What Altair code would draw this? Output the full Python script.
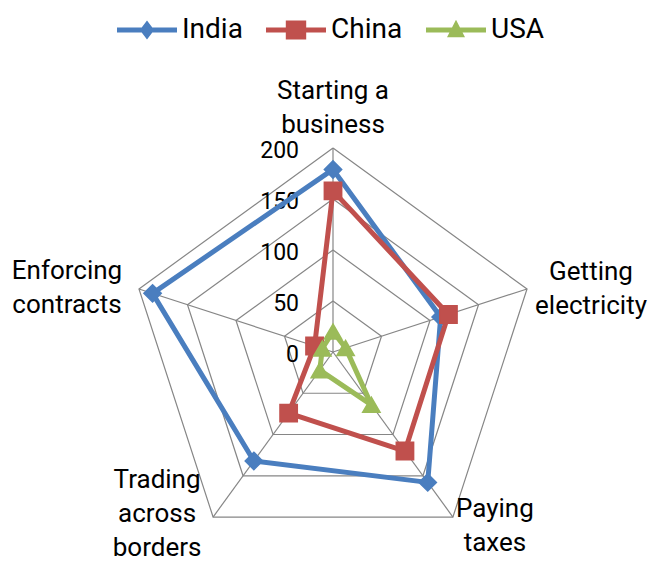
import altair as alt
import pandas as pd

# ---- data ----
categories = ["Starting a\nbusiness", "Getting\nelectricity", "Paying\ntaxes",
              "Trading\nacross\nborders", "Enforcing\ncontracts"]
countries = ["India", "China", "USA"]
india = [179, 111, 158, 132, 186]
china = [158, 119, 120, 74, 19]
usa = [20, 13, 64, 22, 11]
grid_levels = [50, 100, 150, 200]
tick_values = [0, 50, 100, 150, 200]

# ---- styles ----
colors = ["#4a7ebf", "#c0504d", "#9bbb59"]
marker_shapes = ["diamond", "square", "triangle-up"]
legend_paths = [
    "M-1,-0.085H1V0.085H-1Z M0,-0.32L0.24,0L0,0.32L-0.24,0Z",
    "M-1,-0.085H1V0.085H-1Z M-0.34,-0.32H0.34V0.32H-0.34Z",
    "M-1,-0.085H1V0.085H-1Z M0,-0.34L0.3,0.24L-0.3,0.24Z",
]
label_offsets = [(0, -57), (64, -17), (42, -8), (-56, -37), (-72, -18)]
FONT = "Roboto"
W, H = 641, 556
PX = 1.02  # pixels per unit
CX, CY = 325, 344  # center in chart coordinates (pixel)

series = {"India": india, "China": china, "USA": usa}
n = len(categories)

rows = []
for c in countries:
    vals = series[c]
    for i in range(n + 1):
        rows.append({"country": c, "idx": i, "value": vals[i % n]})
series_df = pd.DataFrame(rows)

grid_rows = []
for lv in grid_levels:
    for i in range(n + 1):
        grid_rows.append({"level": lv, "idx": i, "value": lv})
grid_df = pd.DataFrame(grid_rows)

spoke_df = pd.DataFrame({"idx": list(range(n)), "value": [max(grid_levels)] * n})
label_df = pd.DataFrame({"idx": list(range(n)), "label": categories,
                         "value": [max(grid_levels)] * n})
tick_df = pd.DataFrame({"value": tick_values, "text": [str(t) for t in tick_values]})
legend_df = pd.DataFrame({"country": countries})

xscale = alt.Scale(domain=[-CX / PX, (W - CX) / PX], nice=False, zero=False)
yscale = alt.Scale(domain=[-(H - CY) / PX, CY / PX], nice=False, zero=False)
X = alt.X("x:Q", scale=xscale, axis=None)
Y = alt.Y("y:Q", scale=yscale, axis=None)


def polar(ch):
    return ch.transform_calculate(
        ang=f"datum.idx * 2 * PI / {n}"
    ).transform_calculate(
        x="datum.value * sin(datum.ang)",
        y="datum.value * cos(datum.ang)",
        x0="0", y0="0",
    )


rings = polar(alt.Chart(grid_df).mark_line(color="#868686", strokeWidth=1.2)).encode(
    x=X, y=Y, detail="level:N", order="idx:Q")
spokes = polar(alt.Chart(spoke_df).mark_rule(color="#868686", strokeWidth=1.2)).encode(
    x=alt.X("x0:Q", scale=xscale, axis=None), y=alt.Y("y0:Q", scale=yscale, axis=None),
    x2="x:Q", y2="y:Q")

ticks = alt.Chart(tick_df).transform_calculate(x="0", y="datum.value").mark_text(
    align="right", baseline="middle", dx=-34, dy=3, font=FONT, fontSize=23, color="black"
).encode(x=X, y=Y, text="text:N")

layers = [rings, spokes, ticks]

for i, (dx, dy) in enumerate(label_offsets):
    layers.append(
        polar(alt.Chart(label_df).transform_filter(f"datum.idx == {i}").mark_text(
            align="center", baseline="middle", dx=dx, dy=dy, font=FONT, fontSize=26,
            lineHeight=34, lineBreak="\n", color="black"
        )).encode(x=X, y=Y, text="label:N")
    )

for c, col, shp in zip(countries, colors, marker_shapes):
    base = polar(alt.Chart(series_df).transform_filter(f"datum.country == '{c}'"))
    layers.append(base.mark_line(color=col, strokeWidth=5, strokeJoin="round").encode(
        x=X, y=Y, order="idx:Q"))
    layers.append(base.transform_filter("datum.idx < %d" % n).mark_point(
        shape=shp, filled=True, size=300, opacity=1, color=col, stroke=col, strokeWidth=1.5
    ).encode(x=X, y=Y))

leg = alt.Legend(orient="none", legendX=109, legendY=-8, direction="horizontal",
                 title=None, symbolSize=3600, symbolStrokeWidth=0, symbolOpacity=1,
                 labelFont=FONT, labelFontSize=28, labelColor="black", labelOffset=5,
                 columnPadding=23, padding=0, labelLimit=300)
legend_layer = alt.Chart(legend_df).transform_filter("false").mark_point(
    filled=True, opacity=1, strokeWidth=0
).encode(
    fill=alt.Fill("country:N", scale=alt.Scale(domain=countries, range=colors), legend=leg),
    shape=alt.Shape("country:N", scale=alt.Scale(domain=countries, range=legend_paths), legend=leg),
)
layers.append(legend_layer)

chart = alt.layer(*layers).properties(
    width=W, height=H, autosize=alt.AutoSizeParams(type="none"), padding=0,
    background="white"
).configure_view(stroke=None)

chart.save("out.html", embed_options={"renderer": "svg", "actions": False})
